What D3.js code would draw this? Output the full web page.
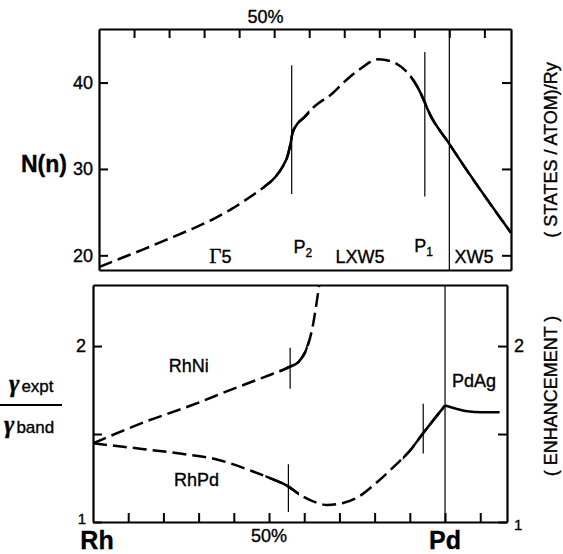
<!DOCTYPE html>
<html><head><meta charset="utf-8">
<script src="https://cdn.jsdelivr.net/npm/d3@7"></script>
<style>
body{margin:0;background:#fff}
svg{display:block}
text{font-family:"Liberation Sans",Arial,Helvetica,sans-serif;fill:#000;stroke:#000;stroke-width:0.35px}
</style>
</head><body>
<svg id="chart" width="563" height="554"></svg>
<script>
// ---------- data ----------
// composition axis (% from Rh toward Pd, Pd = 100%)
const xTicks = [10,20,30,40,50,60,70,80,90,100,110];
const topYTicks = [20,30,40];
const botYTicks = [1,1.5,2];

// Top panel: density of states N(n)
const nComp = [0, 5.9, 12.5, 20.7, 26.8, 32.9, 38, 43.1, 47.1, 50.4, 52.4, 53.9, 54.7, 55.2, 56.4, 58.4, 61.4, 66.5, 70.6, 74.6, 79.7, 83.8, 87.9, 90.9, 93, 93.8, 100, 117.6];
const nVal  = [18.65, 19.6, 20.66, 22.05, 23.1, 24.25, 25.4, 26.75, 27.9, 29.1, 30.25, 31.6, 33, 34.1, 35.1, 35.9, 37.2, 38.7, 40.3, 41.6, 42.7, 42.4, 41.2, 39.5, 37.7, 36.9, 32.9, 22.6];
const nSolid = [[47,60],[89,118]];

// Bottom panel: gamma expt / gamma band
const niComp = [0, 14.5, 27.8, 40, 49.2, 54.3, 55.8, 58.4, 60.9, 62.4, 63.5, 64.3];
const niVal  = [1.447, 1.567, 1.662, 1.758, 1.828, 1.868, 1.882, 1.910, 1.996, 2.111, 2.244, 2.355];
const niSolid = [[53,61]];

const pdComp = [0, 14.5, 24.7, 34.9, 45.1, 51.2, 55.3, 58.4, 62.2, 66.5, 70.8, 75.2, 80.5, 85.7, 90, 93.6, 100];
const pdVal  = [1.447, 1.414, 1.389, 1.357, 1.29, 1.242, 1.204, 1.16, 1.12, 1.097, 1.107, 1.141, 1.223, 1.319, 1.405, 1.5, 1.662];
const pdSolid = [[49,58.5],[88,101]];

const agComp = [100, 103.3, 106.3, 110.4, 115.5];
const agVal  = [1.662, 1.643, 1.63, 1.624, 1.624];

// vertical marker lines [composition, yFrom, yTo]
const topMarkers = [[55, 27.1, 42.0], [93, 26.8, 43.55]];
const botMarkers = [[56, 1.758, 1.99], [55.5, 1.057, 1.328], [93.8, 1.389, 1.672]];
const pdLine = 100;

// region labels
const regionLabels = ["Γ5", "P2", "LXW5", "P1", "XW5"];

// ---------- drawing ----------
const svg = d3.select("#chart");
svg.append("rect").attr("width",563).attr("height",554).attr("fill","#fff");

const T = {left:99, right:511, top:29, bottom:270};
const B = {left:93, right:507, top:285, bottom:522};
const xMax = 117.6;

const xT = d3.scaleLinear().domain([0,xMax]).range([T.left,T.right]);
const yT = d3.scaleLinear().domain([18.3,46.2]).range([T.bottom,T.top]);
const xB = d3.scaleLinear().domain([0,xMax]).range([B.left,B.right]);
const yB = d3.scaleLinear().domain([1,2.347]).range([B.bottom,B.top]);

const frameW = 2.2, curveW = 2.5, thinW = 1.2, tickLen = 9;

function styleAxis(g){
  g.selectAll(".domain").attr("stroke","#000").attr("stroke-width",frameW);
  g.selectAll(".tick line").attr("stroke","#000").attr("stroke-width",2);
  g.selectAll(".tick text").attr("font-family",'"Liberation Sans",Arial,sans-serif').attr("font-size",18).attr("fill","#000");
}

// ---- top panel axes ----
svg.append("g").attr("transform",`translate(0,${T.top})`)
  .call(d3.axisTop(xT).tickValues(xTicks).tickSize(-tickLen).tickSizeOuter(0).tickFormat(""))
  .call(styleAxis);
svg.append("g").attr("transform",`translate(0,${T.bottom})`)
  .call(d3.axisBottom(xT).tickValues([]).tickSizeOuter(0))
  .call(styleAxis);
svg.append("g").attr("transform",`translate(${T.left},0)`)
  .call(d3.axisLeft(yT).tickValues(topYTicks).tickSize(-tickLen).tickSizeOuter(0).tickPadding(6).tickFormat(d3.format("d")))
  .call(styleAxis);
svg.append("g").attr("transform",`translate(${T.right},0)`)
  .call(d3.axisRight(yT).tickValues(topYTicks).tickSize(-tickLen).tickSizeOuter(0).tickFormat(""))
  .call(styleAxis);

// ---- bottom panel axes ----
svg.append("g").attr("transform",`translate(0,${B.top})`)
  .call(d3.axisTop(xB).tickValues([]).tickSizeOuter(0))
  .call(styleAxis);
svg.append("g").attr("transform",`translate(0,${B.bottom})`)
  .call(d3.axisBottom(xB).tickValues(xTicks).tickSize(-tickLen).tickSizeOuter(0).tickFormat(""))
  .call(styleAxis);
const fmtB = d => d===1.5 ? "" : d3.format("d")(d);
svg.append("g").attr("transform",`translate(${B.left},0)`)
  .call(d3.axisLeft(yB).tickValues(botYTicks).tickSize(-tickLen).tickSizeOuter(0).tickPadding(7).tickFormat(fmtB))
  .call(styleAxis)
  .call(g=>g.selectAll(".tick text").filter(d=>d===1).attr("font-size",15).attr("dy","0.1em"));
svg.append("g").attr("transform",`translate(${B.right},0)`)
  .call(d3.axisRight(yB).tickValues(botYTicks).tickSize(-tickLen).tickSizeOuter(0).tickPadding(7).tickFormat(fmtB))
  .call(styleAxis)
  .call(g=>g.selectAll(".tick text").filter(d=>d===1).attr("font-size",15).attr("dy","0.5em"));

// ---- clip paths for solid segments ----
const defs = svg.append("defs");
function addClip(id, ranges, xs, y0, y1){
  const cp = defs.append("clipPath").attr("id",id);
  ranges.forEach(r=>cp.append("rect").attr("x",xs(r[0])).attr("y",y0).attr("width",xs(r[1])-xs(r[0])).attr("height",y1-y0));
}
addClip("clipN", nSolid, xT, T.top, T.bottom);
addClip("clipNi", niSolid, xB, B.top, B.bottom);
addClip("clipPd", pdSolid, xB, B.top, B.bottom);
defs.append("clipPath").attr("id","clipTop").append("rect").attr("x",T.left).attr("y",T.top).attr("width",T.right-T.left).attr("height",T.bottom-T.top);
defs.append("clipPath").attr("id","clipBot").append("rect").attr("x",B.left).attr("y",B.top).attr("width",B.right-B.left).attr("height",B.bottom-B.top);

function drawCurve(comp, vals, xs, ys, clipSolid, clipPanel, solidOnly){
  const pts = comp.map((c,i)=>[c,vals[i]]);
  const line = d3.line().x(d=>xs(d[0])).y(d=>ys(d[1])).curve(d3.curveMonotoneX);
  const g = svg.append("g").attr("clip-path",`url(#${clipPanel})`);
  if(!solidOnly){
    g.append("path").attr("d",line(pts)).attr("fill","none").attr("stroke","#000")
      .attr("stroke-width",curveW).attr("stroke-dasharray","14,6");
  }
  const gs = g.append("g");
  if(clipSolid) gs.attr("clip-path",`url(#${clipSolid})`);
  if(clipSolid || solidOnly){
    gs.append("path").attr("d",line(pts)).attr("fill","none").attr("stroke","#000")
      .attr("stroke-width",curveW);
  }
}
drawCurve(nComp, nVal, xT, yT, "clipN", "clipTop", false);
drawCurve(niComp, niVal, xB, yB, "clipNi", "clipBot", false);
drawCurve(pdComp, pdVal, xB, yB, "clipPd", "clipBot", false);
drawCurve(agComp, agVal, xB, yB, null, "clipBot", true);

// ---- vertical lines ----
topMarkers.forEach(m=>svg.append("line").attr("x1",xT(m[0])).attr("x2",xT(m[0])).attr("y1",yT(m[1])).attr("y2",yT(m[2])).attr("stroke","#000").attr("stroke-width",thinW));
botMarkers.forEach(m=>svg.append("line").attr("x1",xB(m[0])).attr("x2",xB(m[0])).attr("y1",yB(m[1])).attr("y2",yB(m[2])).attr("stroke","#000").attr("stroke-width",thinW));
svg.append("line").attr("x1",xT(pdLine)).attr("x2",xT(pdLine)).attr("y1",T.top).attr("y2",T.bottom).attr("stroke","#000").attr("stroke-width",thinW);
svg.append("line").attr("x1",xB(pdLine)).attr("x2",xB(pdLine)).attr("y1",B.top).attr("y2",B.bottom).attr("stroke","#000").attr("stroke-width",thinW);

// ---- texts ----
function txt(x,y,s,size,opts={}){
  const t = svg.append("text").attr("x",x).attr("y",y).attr("font-size",size).text(s);
  if(opts.anchor) t.attr("text-anchor",opts.anchor);
  if(opts.weight) t.attr("font-weight",opts.weight);
  return t;
}
txt(xT(47.5), 23, "50%", 18, {anchor:"middle"});
txt(21, 172, "N(n)", 23, {weight:"bold"});

// region labels in top panel
const gl = svg.append("text").attr("x",xT(31.5)).attr("y",263).attr("font-size",18);
gl.append("tspan").attr("font-family",'"Liberation Serif","Times New Roman",serif').attr("font-size",21).text(regionLabels[0].charAt(0));
gl.append("tspan").text(regionLabels[0].slice(1));
const p2 = svg.append("text").attr("x",xT(55.5)).attr("y",253).attr("font-size",18);
p2.append("tspan").text("P");
p2.append("tspan").attr("font-size",12).attr("dy",4).text(regionLabels[1].slice(1));
txt(xT(67.5), 263, regionLabels[2], 18);
const p1 = svg.append("text").attr("x",xT(90)).attr("y",252).attr("font-size",18);
p1.append("tspan").text("P");
p1.append("tspan").attr("font-size",12).attr("dy",4).text(regionLabels[3].slice(1));
txt(xT(101.5), 263, regionLabels[4], 18);

// right rotated label (top)
svg.append("text").attr("transform","translate(557,150) rotate(-90)").attr("text-anchor","middle")
  .attr("font-size",18).text("( STATES / ATOM)/Ry");
// right rotated label (bottom)
svg.append("text").attr("transform","translate(557,396) rotate(-90)").attr("text-anchor","middle")
  .attr("font-size",18).text("( ENHANCEMENT )");

// bottom panel labels
txt(xB(21.5), 372, "RhNi", 18);
txt(xB(23), 486, "RhPd", 18);
txt(xB(102), 387, "PdAg", 18);

// fraction label on left
const fe = svg.append("text").attr("x",9).attr("y",392).attr("font-size",17);
fe.append("tspan").attr("font-family",'"Liberation Serif","Times New Roman",serif').attr("font-style","italic").attr("font-weight","bold").attr("font-size",25).text("γ");
fe.append("tspan").attr("dx",2).text("expt");
svg.append("line").attr("x1",0).attr("x2",62).attr("y1",405).attr("y2",405).attr("stroke","#000").attr("stroke-width",2.2);
const fb = svg.append("text").attr("x",4).attr("y",433).attr("font-size",17);
fb.append("tspan").attr("font-family",'"Liberation Serif","Times New Roman",serif').attr("font-style","italic").attr("font-weight","bold").attr("font-size",25).text("γ");
fb.append("tspan").attr("dx",2).text("band");

// bottom composition labels
txt(xB(0)+4, 549, "Rh", 25, {anchor:"middle", weight:"bold"});
txt(xB(50), 542, "50%", 18, {anchor:"middle"});
txt(xB(100), 549, "Pd", 25, {anchor:"middle", weight:"bold"});
</script>
</body></html>
